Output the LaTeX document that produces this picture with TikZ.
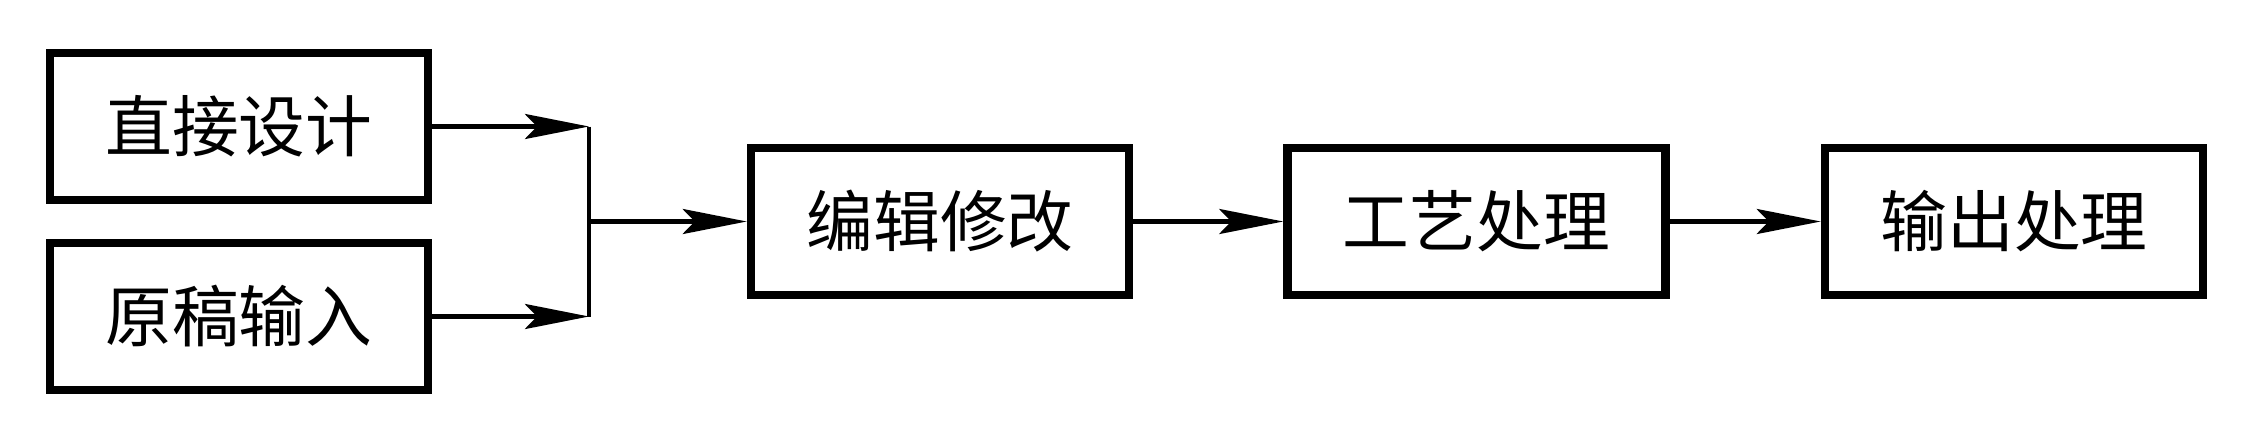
\documentclass[tikz,border=0pt]{standalone}
\usepackage{fontspec}
\newfontfamily\cjk{Noto Sans CJK SC}
\usetikzlibrary{arrows.meta}
\begin{document}
\begin{tikzpicture}[
  box/.style={draw, line width=0.85mm, minimum width=3.78cm, minimum height=1.47cm, inner sep=0pt, font=\cjk\fontsize{19pt}{21pt}\selectfont},
  conn/.style={line width=0.45mm, -{Stealth[length=6.4mm, width=2.5mm, inset=1.2mm]}},
  plain/.style={line width=0.45mm}
]
\useasboundingbox (0,0) rectangle (22.45,4.38);
\node[box] (a) at (2.39,3.115) {直接设计};
\node[box] (b) at (2.39,1.215) {原稿输入};
\node[box] (c) at (9.40,2.165) {编辑修改};
\node[box] (d) at (14.765,2.165) {工艺处理};
\node[box] (e) at (20.14,2.165) {输出处理};
\coordinate (j1) at (5.89,3.115);
\coordinate (j2) at (5.89,1.215);
\coordinate (jm) at (5.89,2.165);
\draw[conn] (a.east) -- (j1);
\draw[conn] (b.east) -- (j2);
\draw[plain] (j1) -- (j2);
\draw[conn] (jm) -- (c.west);
\draw[conn] (c.east) -- (d.west);
\draw[conn] (d.east) -- (e.west);
\end{tikzpicture}
\end{document}
